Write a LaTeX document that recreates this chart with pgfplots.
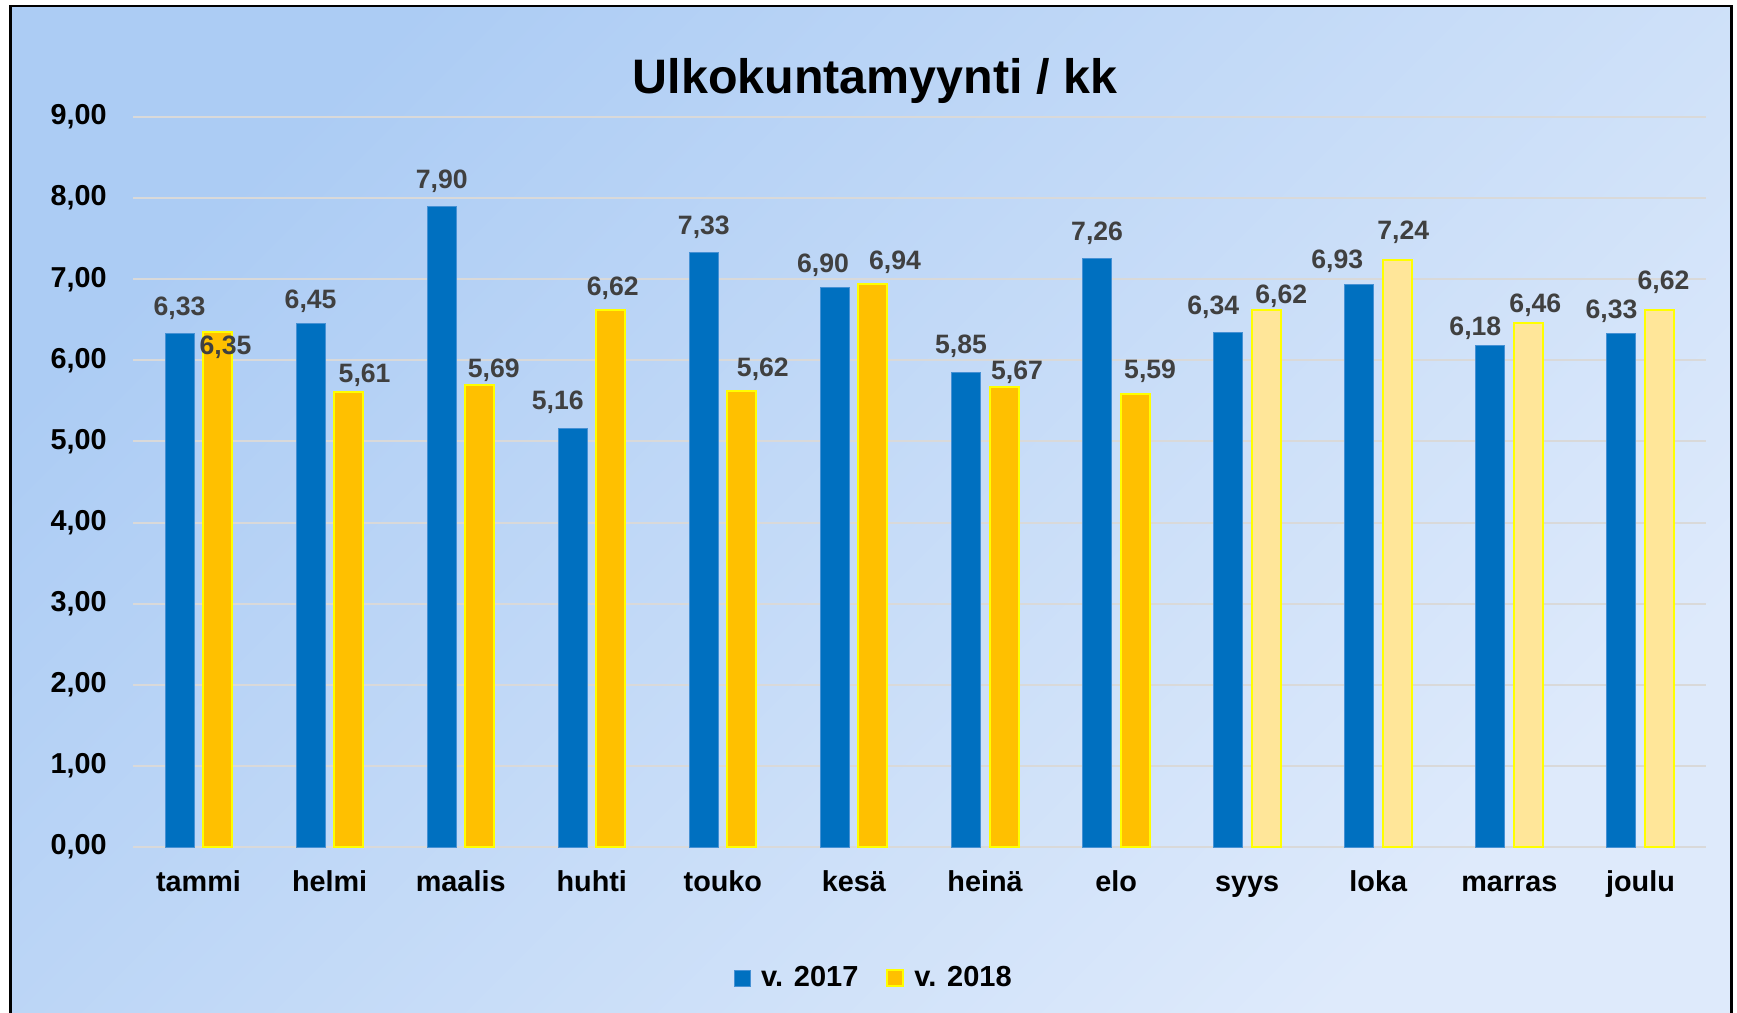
\documentclass[border=0pt]{standalone}
\usepackage{pgfplots}
\usepackage{pgfplotstable}
\pgfplotsset{compat=1.18}
\usepackage{fontspec}
\setmainfont{Liberation Sans}
\definecolor{c17}{RGB}{0,112,192}
\definecolor{c17b}{RGB}{70,145,212}
\definecolor{c18}{RGB}{255,192,0}
\definecolor{c18l}{RGB}{255,230,153}
\definecolor{c18b}{RGB}{255,255,0}
\definecolor{gridc}{RGB}{217,217,217}
\definecolor{lblc}{RGB}{64,64,64}
\definecolor{bgA}{RGB}{172,204,244}
\definecolor{bgB}{RGB}{205,224,248}
\definecolor{bgC}{RGB}{222,234,251}

% x = category index, y = value, dx/dy = label offset (pt) from bar top centre
\pgfplotstableread{
x y dx dy
0 6.33 0 12.5
1 6.45 0 11.5
2 7.90 0 12.5
3 5.16 -7.5 13
4 7.33 0 12.5
5 6.90 -6 11
6 5.85 -2.5 13
7 7.26 0 12.5
8 6.34 -7.5 12.5
9 6.93 -11 12
10 6.18 -7.5 8.5
11 6.33 -5 11
}\tblA

\pgfplotstableread{
x y dx dy
0 6.35 4 -7.5
1 5.61 8 8.5
2 5.69 7 7.5
3 6.62 1 11
4 5.62 10.5 11
5 6.94 11 11
6 5.67 6.5 7.5
7 5.59 7.5 11
}\tblB

\pgfplotstableread{
x y dx dy
8 6.62 7.5 7
9 7.24 3 13.5
10 6.46 3.5 9
11 6.62 2 14
}\tblC

\pgfplotsset{
  lbl/.style={draw=none, mark=none, forget plot, point meta=\thisrow{y},
    nodes near coords,
    every node near coord/.append style={anchor=center,
      font=\bfseries\fontsize{13.3}{15}\selectfont, text=lblc, inner sep=0pt}},
}

\begin{document}
\begin{tikzpicture}
\fill[white] (-66.5pt,-83pt) rectangle (802pt,423.5pt);
\shade[top color=bgA, middle color=bgB, bottom color=bgC, shading angle=45] (-61.25pt,-84pt) rectangle (799.25pt,420.5pt);
\draw[black, line width=1.2pt] (-61.25pt,-84pt) -- (-61.25pt,420.5pt) -- (799.25pt,420.5pt) -- (799.25pt,-84pt);
\begin{axis}[
  at={(0pt,0pt)}, anchor=south west,
  scale only axis, width=786.5pt, height=365pt,
  xmin=-0.5, xmax=11.5, ymin=0, ymax=9,
  clip=false,
  xtick={0,...,11},
  xticklabels={tammi,helmi,maalis,huhti,touko,kesä,heinä,elo,syys,loka,marras,joulu},
  ytick={0,1,...,9},
  ymajorgrids,
  major grid style={gridc, line width=1pt},
  axis line style={draw=none},
  major tick length=0pt,
  /pgf/number format/assume math mode=true,
  /pgf/number format/use comma,
  /pgf/number format/fixed,
  /pgf/number format/fixed zerofill,
  /pgf/number format/precision=2,
  yticklabel style={font=\bfseries\fontsize{14.4}{16}\selectfont, anchor=east, inner sep=0pt, xshift=-13pt},
  xticklabel style={font=\bfseries\fontsize{14.4}{16}\selectfont, anchor=base, inner sep=0pt, yshift=-22.35pt},
  legend style={at={(0.4717,-0.1795)}, anchor=center, draw=none, fill=none,
    font=\bfseries\fontsize{14.5}{16}\selectfont,
    /tikz/every odd column/.append style={column sep=3pt},
    /tikz/every even column/.append style={column sep=12pt}},
  legend columns=2,
  legend image code/.code={\draw[#1] (0pt,-4pt) rectangle (8pt,4pt);},
]
\addlegendimage{fill=c17, draw=c17b, line width=0.5pt}
\addlegendentry{v. 2017}
\addlegendimage{fill=c18, draw=c18b, line width=1pt}
\addlegendentry{v. 2018}

\addplot[ybar, bar width=14.5pt, bar shift=-9.5pt, fill=c17, draw=c17b, line width=0.5pt, forget plot]
  table[x=x, y=y] {\tblA};
\addplot[ybar, bar width=14.5pt, bar shift=9.5pt, fill=c18, draw=c18b, line width=1pt, forget plot]
  table[x=x, y=y] {\tblB};
\addplot[ybar, bar width=14.5pt, bar shift=9.5pt, fill=c18l, draw=c18b, line width=1pt, forget plot]
  table[x=x, y=y] {\tblC};

% value labels (bar shift 9.5pt = 0.14495 x-units; 1 y-unit = 40.5556pt)
\addplot[lbl] table[x expr=\thisrow{x}-0.14495+\thisrow{dx}/65.5417, y expr=\thisrow{y}+\thisrow{dy}/40.5556] {\tblA};
\addplot[lbl] table[x expr=\thisrow{x}+0.14495+\thisrow{dx}/65.5417, y expr=\thisrow{y}+\thisrow{dy}/40.5556] {\tblB};
\addplot[lbl] table[x expr=\thisrow{x}+0.14495+\thisrow{dx}/65.5417, y expr=\thisrow{y}+\thisrow{dy}/40.5556] {\tblC};
\end{axis}
\node[anchor=base, font=\bfseries\fontsize{24.2}{28}\selectfont] at (371pt,376.85pt) {Ulkokuntamyynti / kk};
\pgfresetboundingbox
\useasboundingbox (-66.5pt,-83pt) rectangle (802pt,423.5pt);
\end{tikzpicture}
\end{document}
